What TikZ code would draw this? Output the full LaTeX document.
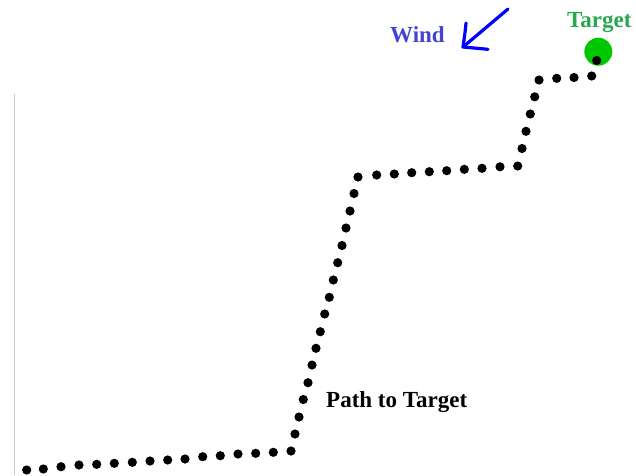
\documentclass[tikz,border=0pt]{standalone}
\usepackage{fontspec}
\setmainfont{Liberation Serif}
\begin{document}
\begin{tikzpicture}[x=1pt,y=-1pt,
  pathdot/.style={fill=black},
  lbl/.style={font=\bfseries\fontsize{23}{27}\selectfont, inner sep=0pt, anchor=base west},
  windline/.style={draw=blue, line width=3.2pt, line cap=round, line join=round}]
\definecolor{windtxt}{RGB}{68,68,208}
\definecolor{targettxt}{RGB}{42,168,78}
\definecolor{targetball}{RGB}{0,200,0}
\useasboundingbox (0,0) rectangle (636,475);
\fill[white] (0,0) rectangle (636,475);
% axis line
\coordinate (axtop) at (14.3,94);
\coordinate (axbot) at (14.3,475);
\draw[black!20, line width=1pt] (axtop) -- (axbot);
% path dots
\foreach \x/\y in {26.7/470,43.3/469,61/466.7,79/465,96.7/464.3,114.3/463.3,132.3/462.3,150/461,167.7/460,185/459,202.7/456.7,220.3/455.7,238/454,255.7/453.3,273.3/452.3,291/451,
  295/434,299/417,303.3/399.5,308/382.7,312/365,316/348.3,320.3/331.7,324.7/314,329.3/297.3,333.3/280,337.7/262.7,342/245.5,346/228,350/211,354/193.5,358/177,
  376.7/175,394.3/174,411.7/172.7,429.3/171.7,446.7/170.7,464.3/169.3,482/168.3,500/166.8,517.7/166,
  522/148.5,526/131.3,530.3/114,534.7/96.8,539/80,556.7/78.3,574/77.5,591.7/76}
  \fill[pathdot] (\x,\y) circle (4.6);
% target
\node[circle, fill=targetball, minimum size=28pt, inner sep=0pt] (ball) at (598.3,51.7) {};
\fill[pathdot] (596.7,60.5) circle (4.6);
\node[lbl, text=targettxt] (tgt) at (567,27.3) {Target};
% path label
\node[lbl, text=black] (plabel) at (326,407.7) {Path to Target};
% wind
\node[lbl, text=windtxt] (wind) at (390,42.3) {Wind};
\coordinate (wtip) at (463,47);
\coordinate (wtail) at (508,9);
\coordinate (warmA) at (466,23);
\coordinate (warmB) at (488,49.3);
\draw[windline] (wtail) -- (wtip);
\draw[windline] (warmA) .. controls (465,33) .. (wtip) -- (warmB);
\end{tikzpicture}
\end{document}
